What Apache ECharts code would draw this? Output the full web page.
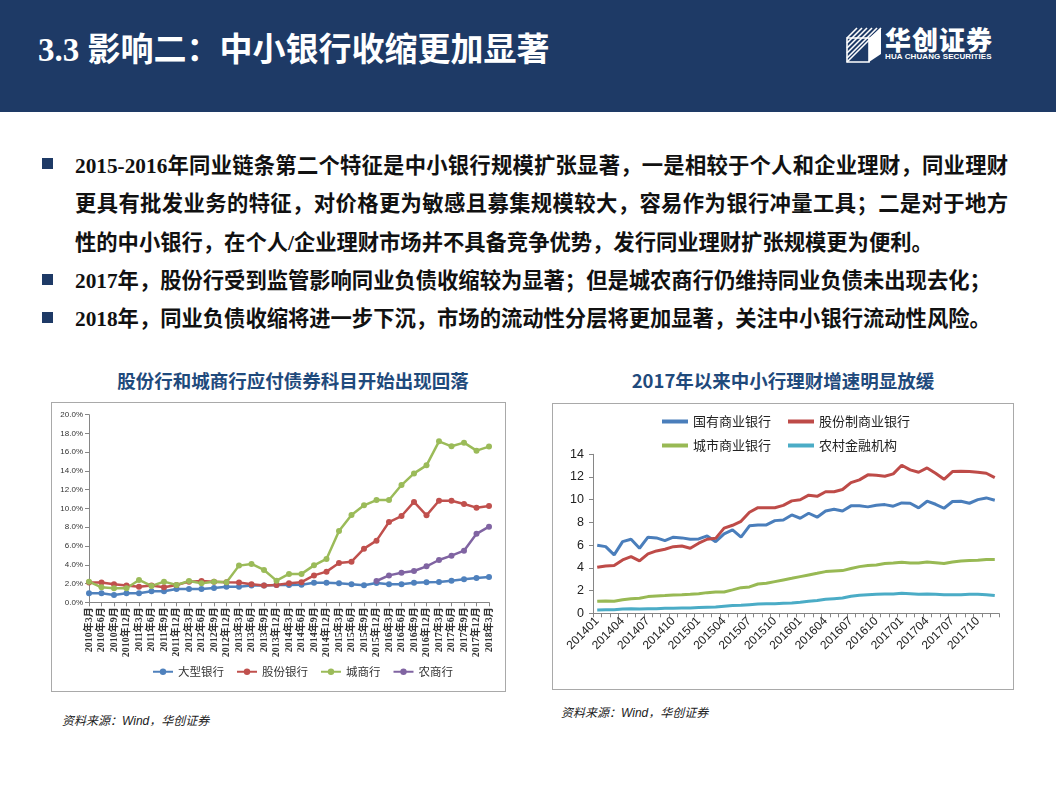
<!DOCTYPE html>
<html>
<head>
<meta charset="utf-8">
<script src="https://cdn.jsdelivr.net/npm/echarts@6/dist/echarts.min.js"></script>
<style>
  html, body { margin:0; padding:0; width:1056px; height:792px; overflow:hidden; background:#fff; }
  body { position:relative; font-family:"Liberation Serif","Noto Sans CJK SC",serif; }
  .hdr { position:absolute; left:0; top:0; width:1056px; height:112px; background:#1e3a66; }
  .title { position:absolute; left:38px; top:30px; line-height:40px; font-size:33px; font-weight:bold; color:#fff; white-space:nowrap; }
  .logo1 { position:absolute; left:885px; top:24px; line-height:30px; font-family:"Noto Sans CJK SC",sans-serif; font-size:26px; font-weight:900; color:#fff; letter-spacing:1px; white-space:nowrap; }
  .logo2 { position:absolute; left:885px; top:52px; line-height:10px; font-family:"Liberation Sans",sans-serif; font-size:8px; font-weight:bold; color:#fff; white-space:nowrap; letter-spacing:0.1px; }
  .bl { position:absolute; left:75px; line-height:26px; font-size:21.3px; font-weight:bold; color:#111; white-space:nowrap; }
  .bl.j { width:933px; text-align:justify; text-align-last:justify; }
  .sq { position:absolute; left:42px; width:11px; height:11px; background:#1e3a66; }
  .ctitle { position:absolute; line-height:24px; font-family:"Noto Sans CJK SC",sans-serif; font-size:18.5px; font-weight:bold; color:#1f4a7c; white-space:nowrap; transform:translateX(-50%); }
  .box { position:absolute; border:1px solid #a9a9a9; box-sizing:border-box; }
  .src { position:absolute; font-family:"Liberation Sans","Noto Sans CJK SC",sans-serif; font-style:italic; font-size:12px; color:#222; line-height:16px; white-space:nowrap; }
  #chart { position:absolute; left:0; top:0; width:1056px; height:792px; }
</style>
</head>
<body>
<div class="hdr"></div>
<div class="title">3.3 影响二：中小银行收缩更加显著</div>
<svg style="position:absolute;left:845px;top:26px" width="38" height="38" viewBox="0 0 38 38">
  <g stroke="#fff" stroke-width="1.6" fill="none">
    <line x1="2" y1="12" x2="12" y2="2"/>
    <line x1="2" y1="17" x2="17" y2="2"/>
    <line x1="2" y1="22" x2="22" y2="2"/>
    <line x1="2" y1="27" x2="27" y2="2"/>
    <line x1="2" y1="32" x2="32" y2="2"/>
    <line x1="2" y1="36" x2="36" y2="2"/>
  </g>
  <polygon points="24,12 36,2 36,28 24,36" fill="#fff"/>
  <polygon points="2,12 24,12 24,36 2,36" fill="none" stroke="#fff" stroke-width="1.6"/>
</svg>
<div class="logo1">华创证券</div>
<div class="logo2">HUA CHUANG SECURITIES</div>

<div class="sq" style="top:158px"></div>
<div class="bl j" style="top:153px">2015-2016年同业链条第二个特征是中小银行规模扩张显著，一是相较于个人和企业理财，同业理财</div>
<div class="bl j" style="top:191px">更具有批发业务的特征，对价格更为敏感且募集规模较大，容易作为银行冲量工具；二是对于地方</div>
<div class="bl" style="top:230px">性的中小银行，在个人/企业理财市场并不具备竞争优势，发行同业理财扩张规模更为便利。</div>
<div class="sq" style="top:274px"></div>
<div class="bl" style="top:268px">2017年，股份行受到监管影响同业负债收缩较为显著；但是城农商行仍维持同业负债未出现去化；</div>
<div class="sq" style="top:312px"></div>
<div class="bl" style="top:306px">2018年，同业负债收缩将进一步下沉，市场的流动性分层将更加显著，关注中小银行流动性风险。</div>

<div class="ctitle" style="left:293px;top:368px">股份行和城商行应付债券科目开始出现回落</div>
<div class="ctitle" style="left:783px;top:368px">2017年以来中小行理财增速明显放缓</div>

<div class="box" style="left:51px;top:402px;width:455px;height:290px"></div>
<div class="box" style="left:552px;top:403px;width:462px;height:287px"></div>

<div class="src" style="left:62px;top:713px">资料来源：Wind，华创证券</div>
<div class="src" style="left:561px;top:705px">资料来源：Wind，华创证券</div>

<div id="chart"></div>
<script>
// ---- Left chart data (quarterly, %) ----
const leftCategories = [
  '2010年3月','2010年6月','2010年9月','2010年12月',
  '2011年3月','2011年6月','2011年9月','2011年12月',
  '2012年3月','2012年6月','2012年9月','2012年12月',
  '2013年3月','2013年6月','2013年9月','2013年12月',
  '2014年3月','2014年6月','2014年9月','2014年12月',
  '2015年3月','2015年6月','2015年9月','2015年12月',
  '2016年3月','2016年6月','2016年9月','2016年12月',
  '2017年3月','2017年6月','2017年9月','2017年12月',
  '2018年3月'
];
const largeBank = [0.96,0.96,0.78,0.96,0.96,1.17,1.17,1.42,1.42,1.42,1.53,1.67,1.67,1.78,1.78,1.85,1.85,1.88,2.09,2.09,2.02,1.92,1.81,2.06,1.92,1.92,2.09,2.13,2.16,2.30,2.45,2.59,2.70];
const jointStockBank = [2.10,2.10,1.92,1.78,1.67,1.78,1.60,1.85,2.20,2.27,2.20,2.13,2.10,1.92,1.78,1.85,2.02,2.15,2.87,3.27,4.19,4.33,5.72,6.57,8.56,9.20,10.70,9.27,10.83,10.83,10.48,10.09,10.27];
const cityBank = [2.20,1.60,1.49,1.49,2.38,1.74,2.20,1.85,2.27,2.02,2.20,2.13,3.91,4.09,3.45,2.31,3.02,3.03,3.94,4.62,7.60,9.30,10.34,10.90,10.90,12.50,13.74,14.60,17.16,16.63,17.02,16.17,16.60];
const ruralBank = [null,null,null,null,null,null,null,null,null,null,null,null,null,null,null,null,null,null,null,null,null,null,null,2.27,2.87,3.16,3.34,3.83,4.51,4.97,5.50,7.30,8.06];
const leftYTicks = [0,2,4,6,8,10,12,14,16,18,20];

// ---- Right chart data (monthly) ----
const rightCategories = [
  '201401','201402','201403','201404','201405','201406','201407','201408','201409','201410','201411','201412',
  '201501','201502','201503','201504','201505','201506','201507','201508','201509','201510','201511','201512',
  '201601','201602','201603','201604','201605','201606','201607','201608','201609','201610','201611','201612',
  '201701','201702','201703','201704','201705','201706','201707','201708','201709','201710','201711','201712'
];
const stateOwned = [5.99,5.87,5.14,6.31,6.52,5.73,6.70,6.64,6.40,6.70,6.64,6.52,6.55,6.81,6.31,7.00,7.34,6.70,7.70,7.78,7.78,8.16,8.22,8.66,8.37,8.81,8.46,9.00,9.16,9.00,9.46,9.46,9.37,9.52,9.57,9.43,9.72,9.69,9.28,9.87,9.60,9.25,9.84,9.87,9.69,10.01,10.16,9.96];
const jointStock = [4.05,4.17,4.20,4.70,4.99,4.61,5.23,5.49,5.64,5.87,5.93,5.73,6.17,6.52,6.60,7.50,7.75,8.10,8.90,9.30,9.30,9.30,9.50,9.90,10.00,10.40,10.30,10.70,10.70,10.90,11.50,11.75,12.19,12.16,12.07,12.28,13.04,12.63,12.42,12.80,12.33,11.80,12.48,12.51,12.48,12.42,12.33,11.95];
const cityCommercial = [1.06,1.09,1.06,1.20,1.29,1.32,1.47,1.53,1.56,1.62,1.64,1.67,1.73,1.82,1.88,1.88,2.06,2.26,2.32,2.58,2.64,2.79,2.94,3.08,3.23,3.38,3.52,3.67,3.73,3.76,3.94,4.11,4.20,4.26,4.38,4.43,4.49,4.43,4.43,4.52,4.46,4.38,4.52,4.61,4.64,4.67,4.73,4.73];
const ruralFinance = [0.29,0.32,0.32,0.38,0.41,0.38,0.41,0.41,0.44,0.44,0.47,0.47,0.50,0.53,0.56,0.62,0.68,0.70,0.76,0.82,0.85,0.85,0.88,0.91,0.97,1.06,1.12,1.23,1.29,1.35,1.50,1.59,1.64,1.67,1.70,1.70,1.76,1.73,1.67,1.70,1.67,1.64,1.64,1.64,1.67,1.67,1.64,1.56];
const rightYTicks = [0,2,4,6,8,10,12,14];

const leftColors = ['#4f81bd','#c0504d','#9bbb59','#8064a2'];
const rightColors = ['#4a7ebb','#be4b48','#98b954','#4bacc6'];

const chart = echarts.init(document.getElementById('chart'), null, {renderer:'canvas'});
const axisGray = '#868686';
function leftLine(name, data, color) {
  return { name, type:'line', xAxisIndex:0, yAxisIndex:0, data, color,
    symbol:'circle', symbolSize:6, showSymbol:true, connectNulls:false,
    lineStyle:{width:2.5, color}, itemStyle:{color}, animation:false };
}
function rightLine(name, data, color) {
  return { name, type:'line', xAxisIndex:1, yAxisIndex:1, data, color,
    symbol:'none', lineStyle:{width:3, color}, itemStyle:{color}, animation:false };
}
const lineIcon = 'path://M0,0 L26,0 L26,4 L0,4 Z';
chart.setOption({
  backgroundColor:'transparent',
  animation:false,
  grid:[
    {left:89, top:414.7, width:400, height:187.6},
    {left:593, top:454.3, width:406, height:159}
  ],
  legend:[
    { data:['大型银行','股份银行','城商行','农商行'], left:152, top:666, padding:0,
      itemWidth:20, itemHeight:8, itemGap:12,
      textStyle:{fontSize:11.5, color:'#333', fontFamily:'"Noto Sans CJK SC", sans-serif'} },
    { data:['国有商业银行','股份制商业银行'], left:662, top:415, padding:0, icon:lineIcon,
      itemWidth:26, itemHeight:4, itemGap:17,
      textStyle:{fontSize:13, color:'#222', fontFamily:'"Noto Sans CJK SC", sans-serif'} },
    { data:['城市商业银行','农村金融机构'], left:662, top:439, padding:0, icon:lineIcon,
      itemWidth:26, itemHeight:4, itemGap:17,
      textStyle:{fontSize:13, color:'#222', fontFamily:'"Noto Sans CJK SC", sans-serif'} }
  ],
  xAxis:[
    { type:'category', gridIndex:0, data:leftCategories, boundaryGap:false,
      axisLine:{lineStyle:{color:axisGray}}, axisTick:{show:true, length:4, interval:0, lineStyle:{color:axisGray}},
      axisLabel:{interval:0, rotate:90, fontSize:10, fontWeight:'bold', color:'#333', margin:5,
        fontFamily:'"Liberation Serif","Noto Sans CJK SC", serif'},
      splitLine:{show:false} },
    { type:'category', gridIndex:1, data:rightCategories, boundaryGap:true,
      axisLine:{lineStyle:{color:axisGray}}, axisTick:{show:true, length:4, interval:0, lineStyle:{color:axisGray}},
      axisLabel:{interval:2, rotate:45, fontSize:12, color:'#222', margin:6, fontFamily:'"Liberation Sans", sans-serif'},
      splitLine:{show:false} }
  ],
  yAxis:[
    { type:'value', gridIndex:0, min:leftYTicks[0], max:leftYTicks[leftYTicks.length-1], interval:2,
      axisLine:{show:true, lineStyle:{color:axisGray}}, axisTick:{show:true, length:4, lineStyle:{color:axisGray}},
      axisLabel:{fontSize:8, color:'#333', margin:6, formatter:v=>v.toFixed(1)+'%', fontFamily:'"Liberation Sans", sans-serif'},
      splitLine:{show:false} },
    { type:'value', gridIndex:1, min:rightYTicks[0], max:rightYTicks[rightYTicks.length-1], interval:2,
      axisLine:{show:true, lineStyle:{color:axisGray}}, axisTick:{show:true, length:4, lineStyle:{color:axisGray}},
      axisLabel:{fontSize:12.5, color:'#222', margin:9, fontFamily:'"Liberation Sans", sans-serif'},
      splitLine:{show:false} }
  ],
  series:[
    leftLine('大型银行', largeBank, leftColors[0]),
    leftLine('股份银行', jointStockBank, leftColors[1]),
    leftLine('城商行', cityBank, leftColors[2]),
    leftLine('农商行', ruralBank, leftColors[3]),
    rightLine('国有商业银行', stateOwned, rightColors[0]),
    rightLine('股份制商业银行', jointStock, rightColors[1]),
    rightLine('城市商业银行', cityCommercial, rightColors[2]),
    rightLine('农村金融机构', ruralFinance, rightColors[3])
  ]
});
</script>
</body>
</html>
